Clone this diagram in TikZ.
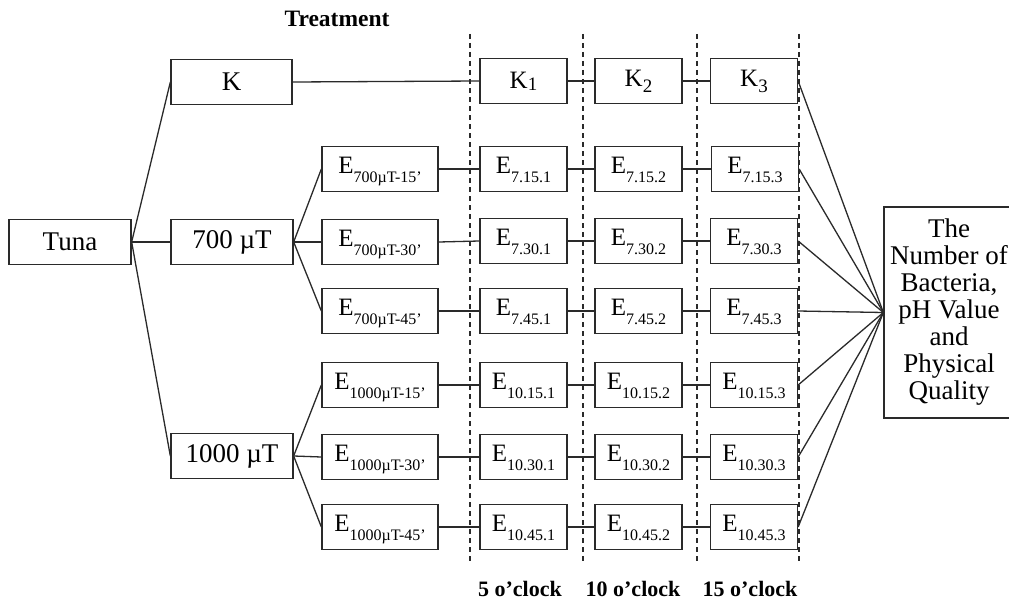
\documentclass[tikz,border=0pt]{standalone}
\usepackage{fontspec}
\setmainfont{Liberation Serif}
\newcommand\mysub[1]{\raisebox{-9pt}{\fontsize{16}{16}\selectfont #1}}
\newcommand\ksub[2]{\raisebox{-#1pt}{\fontsize{19}{19}\selectfont #2}}
\definecolor{ink}{HTML}{2A2A2A}
\begin{document}
\begin{tikzpicture}[x=1pt,y=-1pt,
  box/.style={draw=ink, line width=1.3pt, fill=white, minimum height=45pt, inner sep=0pt,
    font=\fontsize{25}{27}\selectfont},
  bigbox/.style={box, minimum width=122pt, font=\fontsize{27}{29}\selectfont},
  ecol/.style={box, minimum width=116pt, text height=17pt, text depth=9pt},
  tcol/.style={box, minimum width=87pt, text height=17pt, text depth=9pt},
  kcol/.style={box, minimum width=87pt},
  link/.style={draw=ink, line width=1.3pt},
  dashline/.style={draw=ink, line width=1.3pt, dash pattern=on 5pt off 4pt},
  lbl/.style={font=\fontsize{22}{24}\selectfont\bfseries, inner sep=0pt, anchor=base}]
\useasboundingbox (0,0) rectangle (1009,602);
\fill[white] (0,0) rectangle (1009,602);

% dashed time lines
\draw[dashline] (470,34) -- (470,562);
\draw[dashline] (583,34) -- (583,562);
\draw[dashline] (697,34) -- (697,562);
\draw[dashline] (799,34) -- (799,562);

% left part
\node[bigbox] (tuna) at (70,242) {Tuna};
\node[bigbox, minimum width=121pt] (k) at (231.5,82) {K};
\node[bigbox] (m700) at (232,242) {700 µT};
\node[bigbox] (m1000) at (232,456) {1000 µT};

\node[ecol] (ea15) at (380,169) {E\mysub{700µT-15'}};
\node[ecol] (ea30) at (380,242) {E\mysub{700µT-30'}};
\node[ecol] (ea45) at (380,311) {E\mysub{700µT-45'}};
\node[ecol] (eb15) at (380,385) {E\mysub{1000µT-15'}};
\node[ecol] (eb30) at (380,457) {E\mysub{1000µT-30'}};
\node[ecol] (eb45) at (380,527) {E\mysub{1000µT-45'}};

% time columns
\node[kcol] (k1) at (523.5,81) {K\ksub{2}{1}};
\node[kcol] (k2) at (638.5,81) {K\ksub{6}{2}};
\node[kcol] (k3) at (754,81) {K\ksub{6}{3}};

\node[tcol] (c11) at (523.5,169) {E\mysub{7.15.1}};
\node[tcol] (c12) at (638.5,169) {E\mysub{7.15.2}};
\node[tcol] (c13) at (755,169) {E\mysub{7.15.3}};

\node[tcol] (c21) at (523.5,241) {E\mysub{7.30.1}};
\node[tcol] (c22) at (638.5,241) {E\mysub{7.30.2}};
\node[tcol] (c23) at (754,241) {E\mysub{7.30.3}};

\node[tcol] (c31) at (523.5,311) {E\mysub{7.45.1}};
\node[tcol] (c32) at (638.5,311) {E\mysub{7.45.2}};
\node[tcol] (c33) at (754,311) {E\mysub{7.45.3}};

\node[tcol] (c41) at (523.5,385) {E\mysub{10.15.1}};
\node[tcol] (c42) at (638.5,385) {E\mysub{10.15.2}};
\node[tcol] (c43) at (754,385) {E\mysub{10.15.3}};

\node[tcol] (c51) at (523.5,457) {E\mysub{10.30.1}};
\node[tcol] (c52) at (638.5,457) {E\mysub{10.30.2}};
\node[tcol] (c53) at (754,457) {E\mysub{10.30.3}};

\node[tcol] (c61) at (523.5,527) {E\mysub{10.45.1}};
\node[tcol] (c62) at (638.5,527) {E\mysub{10.45.2}};
\node[tcol] (c63) at (754,527) {E\mysub{10.45.3}};

% result box
\node[box, minimum width=130pt, minimum height=211pt, align=center,
  font=\fontsize{27}{27}\selectfont] (out) at (949,312.5)
  {The\\Number of\\Bacteria,\\pH Value\\and\\Physical\\Quality};

% labels
\node[lbl, font=\fontsize{23.5}{25}\selectfont\bfseries] (treat) at (337,27) {Treatment};
\node[lbl] (t5) at (520,596) {5 o'clock};
\node[lbl] (t10) at (633,596) {10 o'clock};
\node[lbl] (t15) at (750,596) {15 o'clock};

% connectors
\draw[link] (tuna.east) -- (k.west);
\draw[link] (tuna.east) -- (m700.west);
\draw[link] (tuna.east) -- (m1000.west);
\draw[link] (m700.east) -- (ea15.west);
\draw[link] (m700.east) -- (ea30.west);
\draw[link] (m700.east) -- (ea45.west);
\draw[link] (m1000.east) -- (eb15.west);
\draw[link] (m1000.east) -- (eb30.west);
\draw[link] (m1000.east) -- (eb45.west);

\draw[link] (k.east) -- (k1.west);
\draw[link] (k1.east) -- (k2.west);
\draw[link] (k2.east) -- (k3.west);

\draw[link] (ea15.east) -- (c11.west);
\draw[link] (c11.east) -- (c12.west);
\draw[link] (c12.east) -- (c13.west);
\draw[link] (ea30.east) -- (c21.west);
\draw[link] (c21.east) -- (c22.west);
\draw[link] (c22.east) -- (c23.west);
\draw[link] (ea45.east) -- (c31.west);
\draw[link] (c31.east) -- (c32.west);
\draw[link] (c32.east) -- (c33.west);
\draw[link] (eb15.east) -- (c41.west);
\draw[link] (c41.east) -- (c42.west);
\draw[link] (c42.east) -- (c43.west);
\draw[link] (eb30.east) -- (c51.west);
\draw[link] (c51.east) -- (c52.west);
\draw[link] (c52.east) -- (c53.west);
\draw[link] (eb45.east) -- (c61.west);
\draw[link] (c61.east) -- (c62.west);
\draw[link] (c62.east) -- (c63.west);

\foreach \n in {k3,c13,c23,c33,c43,c53,c63}
  \draw[link] (\n.east) -- (out.west);
\end{tikzpicture}
\end{document}
